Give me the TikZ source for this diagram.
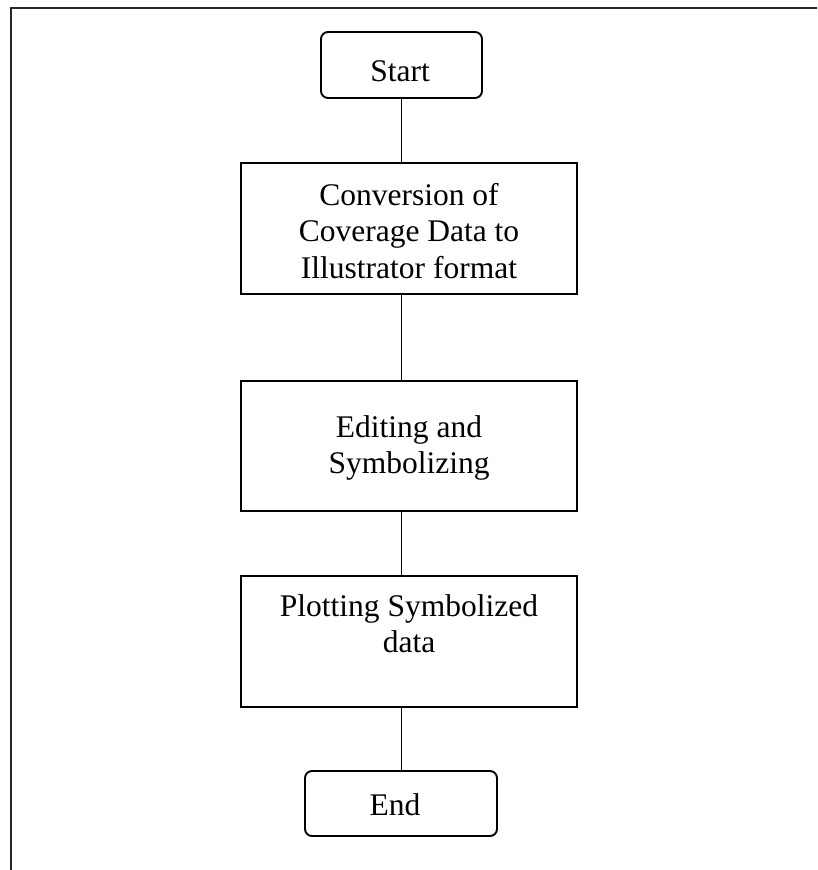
\documentclass[tikz,border=0pt]{standalone}
\usepackage{fontspec}
\setmainfont{Liberation Serif}
% stacked, centred lines whose baseline is that of the first line
\newcommand\boxlines[1]{\vtop{\baselineskip=36.5pt\halign{\hfil##\hfil\cr#1\crcr}}}
\begin{document}
\begin{tikzpicture}[x=1pt,y=-1pt,
  procbox/.style={draw=black,line width=1.9pt,rectangle,inner sep=0pt,
    minimum width=336pt},
  termbox/.style={draw=black,line width=1.9pt,rectangle,rounded corners=7pt,
    inner sep=0pt},
  txt/.style={anchor=base,inner sep=0pt,font=\fontsize{31.5}{36.5}\selectfont},
  link/.style={draw=black,line width=1.7pt},
  frame/.style={draw=black!85,line width=2.4pt}]
\useasboundingbox (0,0) rectangle (817,870);

% page frame (top and left edges)
\draw[frame] (817,8) -- (11,8) -- (11,870);

% terminals
\node[termbox,minimum width=161pt,minimum height=66pt] (start) at (401.5,65) {};
\node[termbox,minimum width=192pt,minimum height=65pt] (end) at (401,803.5) {};

% process steps
\node[procbox,minimum height=131pt] (conv) at (409,228.5) {};
\node[procbox,minimum height=130pt] (edit) at (409,446) {};
\node[procbox,minimum height=131pt] (plot) at (409,641.5) {};

% labels
\node[txt] (start-t) at (400,81) {Start};
\node[txt] (conv-t) at (409,205) {\boxlines{Conversion of\cr Coverage Data to\cr Illustrator format}};
\node[txt] (edit-t) at (409,437) {\boxlines{Editing and\cr Symbolizing}};
\node[txt] (plot-t) at (409,616) {\boxlines{Plotting Symbolized\cr data}};
\node[txt] (end-t) at (395,815) {End};

% connectors down the spine
\draw[link] (start.south) -- (start.south |- conv.north);
\draw[link] (conv.south -| start.south) -- (edit.north -| start.south);
\draw[link] (edit.south -| start.south) -- (plot.north -| start.south);
\draw[link] (plot.south -| start.south) -- (end.north -| start.south);
\end{tikzpicture}
\end{document}
